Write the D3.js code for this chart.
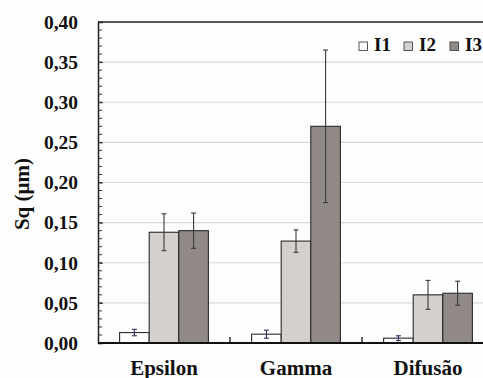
<!DOCTYPE html>
<html>
<head>
<meta charset="utf-8">
<script src="https://cdn.jsdelivr.net/npm/d3@7"></script>
<style>
  html, body { margin: 0; padding: 0; background: #fdfdfd; }
  svg { display: block; }
  text { font-family: "Liberation Serif", "Times New Roman", serif; font-weight: bold; fill: #111; }
</style>
</head>
<body>
<svg id="chart" width="483" height="378"></svg>
<script>
// Surface roughness Sq (µm) per treatment and interval
const categories = ["Epsilon", "Gamma", "Difusão"];
const series = ["I1", "I2", "I3"];
const seriesColors = ["#ffffff", "#d4d0cd", "#918a86"];
const errorColors = ["#2e2e5e", "#3a3a3a", "#3a3a3a"];
const valuesI1 = [0.013, 0.011, 0.006];
const valuesI2 = [0.138, 0.127, 0.060];
const valuesI3 = [0.140, 0.270, 0.062];
const errorsI1 = [0.004, 0.005, 0.003];
const errorsI2 = [0.023, 0.014, 0.018];
const errorsI3 = [0.022, 0.095, 0.015];
const yTicks = [0, 0.05, 0.10, 0.15, 0.20, 0.25, 0.30, 0.35, 0.40];
const yLabel = "Sq (µm)";

const values = [valuesI1, valuesI2, valuesI3];
const errors = [errorsI1, errorsI2, errorsI3];

const svg = d3.select("#chart");
const plotLeft = 98, plotTop = 22, plotBottom = 343, plotRight = 494;

const y = d3.scaleLinear().domain([0, 0.4]).range([plotBottom, plotTop]);
const x = d3.scaleBand().domain(categories).range([plotLeft, plotRight]).paddingInner(0).paddingOuter(0);
const xs = d3.scaleBand().domain(series).range([0, x.bandwidth()]).paddingInner(0).paddingOuter(0.73);

const fmt = d => d3.format(".2f")(d).replace(".", ",");

// grid lines
svg.append("g")
  .selectAll("line")
  .data(yTicks.filter(t => t > 0 && t < 0.4))
  .join("line")
  .attr("x1", plotLeft).attr("x2", 483)
  .attr("y1", d => y(d)).attr("y2", d => y(d))
  .attr("stroke", "#d8d8d8").attr("stroke-width", 1.2);

// top frame line
svg.append("line")
  .attr("x1", plotLeft).attr("x2", 483)
  .attr("y1", y(0.4)).attr("y2", y(0.4))
  .attr("stroke", "#222").attr("stroke-width", 1.5);

// bars
const rows = [];
series.forEach((s, si) => categories.forEach((c, ci) => {
  rows.push({ s, si, c, v: values[si][ci], e: errors[si][ci] });
}));

svg.append("g")
  .selectAll("rect")
  .data(rows)
  .join("rect")
  .attr("x", d => x(d.c) + xs(d.s))
  .attr("width", xs.bandwidth())
  .attr("y", d => y(d.v))
  .attr("height", d => y(0) - y(d.v))
  .attr("fill", d => seriesColors[d.si])
  .attr("stroke", "#2a2a2a").attr("stroke-width", 1.1);

// error bars
const eg = svg.append("g");
rows.forEach(d => {
  const cx = x(d.c) + xs(d.s) + xs.bandwidth() / 2;
  const col = errorColors[d.si];
  eg.append("line").attr("x1", cx).attr("x2", cx)
    .attr("y1", y(d.v + d.e)).attr("y2", y(d.v - d.e))
    .attr("stroke", col).attr("stroke-width", 1.1);
  [d.v + d.e, d.v - d.e].forEach(v => {
    eg.append("line").attr("x1", cx - 2.5).attr("x2", cx + 2.5)
      .attr("y1", y(v)).attr("y2", y(v))
      .attr("stroke", col).attr("stroke-width", 1.1);
  });
});

// y axis with inward ticks
const yAxis = d3.axisLeft(y).tickValues(yTicks).tickSize(-5).tickPadding(20).tickFormat(fmt);
const ya = svg.append("g").attr("transform", `translate(${plotLeft},0)`).call(yAxis);
ya.select(".domain").attr("stroke", "#222").attr("stroke-width", 1.5);
ya.selectAll(".tick line").attr("stroke", "#333");
ya.selectAll(".tick text")
  .style("font-family", "'Liberation Serif', serif").style("font-weight", "bold")
  .style("font-size", "19.5px").attr("fill", "#111");

// minor ticks
svg.append("g").selectAll("line")
  .data(d3.range(0, 0.4001, 0.01))
  .join("line")
  .attr("x1", plotLeft).attr("x2", plotLeft + 4)
  .attr("y1", d => y(d)).attr("y2", d => y(d))
  .attr("stroke", "#333").attr("stroke-width", 1);

// x axis baseline and category separators
svg.append("line")
  .attr("x1", plotLeft).attr("x2", 483)
  .attr("y1", y(0)).attr("y2", y(0))
  .attr("stroke", "#111").attr("stroke-width", 2);
svg.append("g").selectAll("line")
  .data(categories.slice(1))
  .join("line")
  .attr("x1", d => x(d)).attr("x2", d => x(d))
  .attr("y1", y(0) - 6).attr("y2", y(0))
  .attr("stroke", "#111").attr("stroke-width", 1.3);

// category labels
svg.append("g").selectAll("text")
  .data(categories)
  .join("text")
  .attr("transform", d => `translate(${x(d) + x.bandwidth() / 2},375) scale(1.05,1)`)
  .attr("text-anchor", "middle")
  .style("font-size", "20px")
  .text(d => d);

// y axis title
svg.append("text")
  .attr("transform", "translate(29,194) rotate(-90)")
  .attr("text-anchor", "middle")
  .style("font-size", "21px")
  .text(yLabel);

// legend
const legendX = [359, 404, 450];
const lg = svg.append("g");
series.forEach((s, i) => {
  lg.append("rect")
    .attr("x", legendX[i]).attr("y", 42)
    .attr("width", 8.5).attr("height", 8.5)
    .attr("fill", seriesColors[i]).attr("stroke", "#444").attr("stroke-width", 0.9);
  lg.append("text")
    .attr("x", legendX[i] + 15).attr("y", 51)
    .style("font-size", "19px")
    .text(s);
});
</script>
</body>
</html>
